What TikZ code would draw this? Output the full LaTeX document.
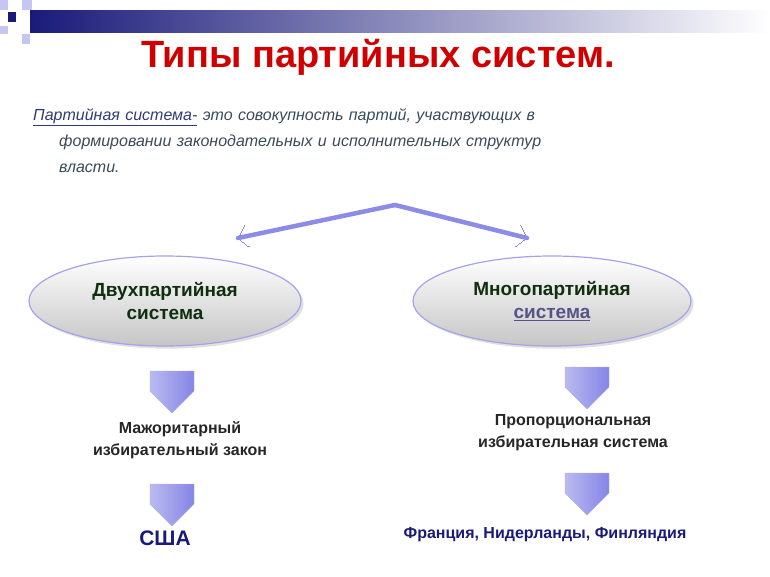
\documentclass[tikz,border=0pt]{standalone}
\usepackage{fontspec}
\setmainfont{Liberation Sans}
\usetikzlibrary{shapes.arrows,shapes.geometric,shadows,arrows.meta}
\definecolor{navy}{HTML}{1A1A7A}
\definecolor{lav}{HTML}{8C8CE6}
\definecolor{titlered}{HTML}{D00000}
\definecolor{defgray}{HTML}{3A4A5A}
\definecolor{darkgreen}{HTML}{0F2F0F}
\begin{document}
\begin{tikzpicture}[x=1pt,y=-1pt,
    oval/.style={ellipse,minimum width=272pt,minimum height=90pt,draw=lav!80,line width=1.2pt,
      top color=white,bottom color=gray!45,font=\bfseries\fontsize{19}{23}\selectfont,
      text=darkgreen,align=center,drop shadow={opacity=0.25}},
    downarrow/.style={single arrow,shape border rotate=270,minimum height=42pt,minimum width=44pt,
      single arrow head extend=0pt,inner sep=2pt,left color=lav!60,right color=lav!95!blue,draw=lav!70},
    result/.style={font=\bfseries\fontsize{16}{22}\selectfont,text=black!85,align=center},
    link/.style={lav,line width=4.5pt,line cap=round,->,>={Straight Barb[length=9pt,width=22pt,line width=0pt]}}
  ]
\useasboundingbox (0,0) rectangle (770,576);
% header band
\shade[left color=navy,right color=white] (30,10) rectangle (770,32);
\fill[navy] (8,12) rectangle (16,22);
\fill[lav!50] (0,0) rectangle (8,10);
\fill[lav!50] (22,0) rectangle (32,10);
\fill[lav!50] (0,26) rectangle (8,34);
\fill[lav!50] (22,34) rectangle (30,44);
\node[font=\bfseries\fontsize{38}{40}\selectfont,text=titlered,inner sep=0pt] (title) at (378,57) {Типы партийных систем.};
% definition
\node[anchor=north west,align=left,text width=690pt,inner sep=0pt,
  font=\itshape\fontsize{16}{26}\selectfont,text=defgray] (def) at (33,108)
  {\textcolor{defgray!80!blue}{\underline{Партийная система-}} это совокупность партий, участвующих в\\
   \hspace*{26pt}формировании законодательных и исполнительных структур\\
   \hspace*{26pt}власти.};
% two branches
\coordinate (apex) at (395,205);
\coordinate (lend) at (238,238);
\coordinate (rend) at (527,238);
\draw[link] (apex) -- (lend);
\draw[link] (apex) -- (rend);
\node[oval] (two) at (165,301) {Двухпартийная\\система};
\node[oval,minimum width=278pt] (multi) at (552,301) {Многопартийная\\\textcolor{lav!60!black}{\underline{система}}};
% left column
\node[downarrow] (la1) at (172,381) {};
\node[result] (major) at (180,440) {Мажоритарный\\избирательный закон};
\node[downarrow] (la2) at (172,494) {};
\node[font=\bfseries\fontsize{21}{24}\selectfont,text=navy] (usa) at (165,538) {США};
% right column
\node[downarrow] (ra1) at (587,377) {};
\node[result] (prop) at (573,433) {Пропорциональная\\избирательная система};
\node[downarrow] (ra2) at (587,483) {};
\node[font=\bfseries\fontsize{16}{20}\selectfont,text=navy] (fr) at (545,535) {Франция, Нидерланды, Финляндия};
\end{tikzpicture}
\end{document}
